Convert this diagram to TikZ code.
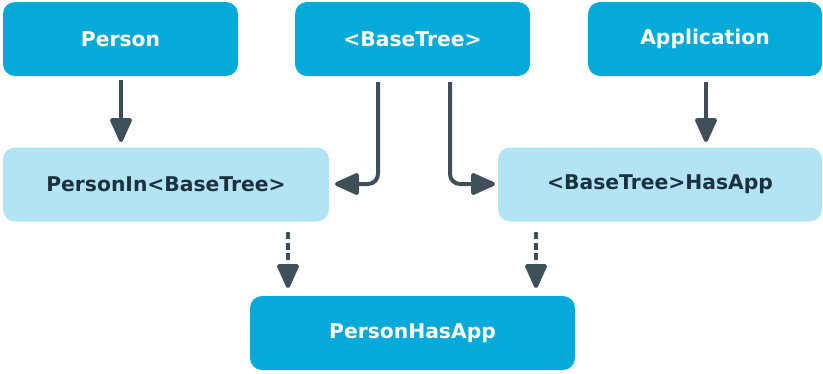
\documentclass[tikz,border=0pt]{standalone}
\usepackage{fontspec}
\setmainfont{DejaVu Sans}
\usetikzlibrary{arrows.meta}
\definecolor{dkbox}{HTML}{05AAD9}
\definecolor{ltbox}{HTML}{B3E4F3}
\definecolor{arr}{HTML}{3F4F5A}
\definecolor{dktext}{HTML}{1B3140}
\begin{document}
\begin{tikzpicture}[x=1pt,y=-1pt,
  box/.style={rounded corners=12pt, minimum height=74pt, inner sep=0pt, font=\fontsize{20.3}{22}\selectfont\bfseries},
  dark/.style={box, fill=dkbox, text=white},
  light/.style={box, fill=ltbox, text=dktext},
  conn/.style={draw=arr, line width=4pt, -{Triangle[width=23pt,length=27pt,round]}},
  dconn/.style={conn, dash pattern=on 7pt off 3.5pt}]
\useasboundingbox (0,0) rectangle (823,373);
\node[dark, minimum width=235pt] (person) at (120.5,39) {Person};
\node[dark, minimum width=235pt] (base) at (412.5,39) {<BaseTree>};
\node[dark, minimum width=234pt] (app) at (705,39) {Application};
\node[light, minimum width=326pt] (pib) at (166,184.5) {PersonIn<BaseTree>};
\node[light, minimum width=324pt] (bha) at (660,184.5) {<BaseTree>HasApp};
\node[dark, minimum width=325pt] (pha) at (412.5,333) {PersonHasApp};
\coordinate (p1) at (121,80);
\coordinate (p2) at (121,142);
\draw[conn] (p1) -- (p2);
\coordinate (a1) at (706,82);
\coordinate (a2) at (706,142);
\draw[conn] (a1) -- (a2);
\coordinate (b1) at (378,82);
\coordinate (b2) at (335,184);
\draw[conn, rounded corners=10pt] (b1) |- (b2);
\coordinate (c1) at (450,82);
\coordinate (c2) at (495,184);
\draw[conn, rounded corners=10pt] (c1) |- (c2);
\coordinate (d1) at (288,232);
\coordinate (d2) at (288,288);
\draw[dconn] (d1) -- (d2);
\coordinate (e1) at (536,232);
\coordinate (e2) at (536,288);
\draw[dconn] (e1) -- (e2);
\end{tikzpicture}
\end{document}
